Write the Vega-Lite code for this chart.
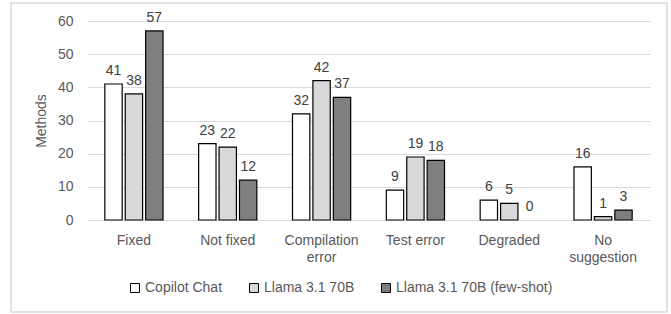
{
  "$schema": "https://vega.github.io/schema/vega-lite/v6.json",
  "width": 656,
  "height": 309,
  "autosize": {"type": "none"},
  "padding": {"left": 11, "top": 3, "right": 4, "bottom": 2},
  "config": {
    "view": {"stroke": "#d9d9d9", "strokeWidth": 1.5},
    "font": "Liberation Sans",
    "axis": {"labelColor": "#595959", "titleColor": "#595959", "labelFontSize": 14, "titleFontSize": 14, "titleFontWeight": "normal"}
  },
  "data": {
    "values": [
      {"category": "Fixed", "series": "Copilot Chat", "value": 41},
      {"category": "Fixed", "series": "Llama 3.1 70B", "value": 38},
      {"category": "Fixed", "series": "Llama 3.1 70B (few-shot)", "value": 57},
      {"category": "Not fixed", "series": "Copilot Chat", "value": 23},
      {"category": "Not fixed", "series": "Llama 3.1 70B", "value": 22},
      {"category": "Not fixed", "series": "Llama 3.1 70B (few-shot)", "value": 12},
      {"category": "Compilation error", "series": "Copilot Chat", "value": 32},
      {"category": "Compilation error", "series": "Llama 3.1 70B", "value": 42},
      {"category": "Compilation error", "series": "Llama 3.1 70B (few-shot)", "value": 37},
      {"category": "Test error", "series": "Copilot Chat", "value": 9},
      {"category": "Test error", "series": "Llama 3.1 70B", "value": 19},
      {"category": "Test error", "series": "Llama 3.1 70B (few-shot)", "value": 18},
      {"category": "Degraded", "series": "Copilot Chat", "value": 6},
      {"category": "Degraded", "series": "Llama 3.1 70B", "value": 5},
      {"category": "Degraded", "series": "Llama 3.1 70B (few-shot)", "value": 0},
      {"category": "No suggestion", "series": "Copilot Chat", "value": 16},
      {"category": "No suggestion", "series": "Llama 3.1 70B", "value": 1},
      {"category": "No suggestion", "series": "Llama 3.1 70B (few-shot)", "value": 3}
    ]
  },
  "encoding": {
    "x": {
      "field": "category",
      "type": "nominal",
      "sort": ["Fixed", "Not fixed", "Compilation error", "Test error", "Degraded", "No suggestion"],
      "scale": {"range": [76, 639], "paddingInner": 0.38, "paddingOuter": 0.19},
      "axis": {
        "title": null,
        "orient": "bottom",
        "offset": -92,
        "domain": false,
        "ticks": false,
        "labelAngle": 0,
        "labelPadding": 13,
        "labelLineHeight": 17,
        "labelExpr": "datum.label == 'Compilation error' ? ['Compilation', 'error'] : datum.label == 'No suggestion' ? ['No', 'suggestion'] : datum.label"
      }
    },
    "xOffset": {
      "field": "series",
      "type": "nominal",
      "sort": ["Copilot Chat", "Llama 3.1 70B", "Llama 3.1 70B (few-shot)"],
      "scale": {"paddingInner": 0.15}
    },
    "y": {
      "field": "value",
      "type": "quantitative",
      "scale": {"domain": [0, 60], "range": [217, 18], "nice": false},
      "axis": {
        "title": "Methods",
        "orient": "left",
        "offset": -76,
        "values": [0, 10, 20, 30, 40, 50, 60],
        "domain": false,
        "ticks": false,
        "labelPadding": 14,
        "titlePadding": 9,
        "grid": true,
        "gridColor": "#d9d9d9",
        "gridWidth": 1.2
      }
    }
  },
  "layer": [
    {
      "mark": {"type": "bar", "stroke": "black", "strokeWidth": 1.2},
      "encoding": {
        "fill": {
          "field": "series",
          "type": "nominal",
          "sort": ["Copilot Chat", "Llama 3.1 70B", "Llama 3.1 70B (few-shot)"],
          "scale": {"range": ["#ffffff", "#d9d9d9", "#7f7f7f"]},
          "legend": {
            "title": null,
            "orient": "none",
            "direction": "horizontal",
            "legendX": 117,
            "legendY": 278,
            "symbolType": "square",
            "symbolSize": 80,
            "symbolStrokeColor": "black",
            "symbolStrokeWidth": 1,
            "labelFontSize": 14,
            "labelColor": "#595959",
            "labelOffset": 3,
            "columnPadding": 24
          }
        },
        "strokeOpacity": {
          "condition": {"test": "datum.value == 0", "value": 0},
          "value": 1
        }
      }
    },
    {
      "mark": {"type": "text", "baseline": "bottom", "dy": -6, "fontSize": 14, "fill": "#404040"},
      "encoding": {
        "text": {"field": "value", "type": "quantitative"}
      }
    }
  ]
}
